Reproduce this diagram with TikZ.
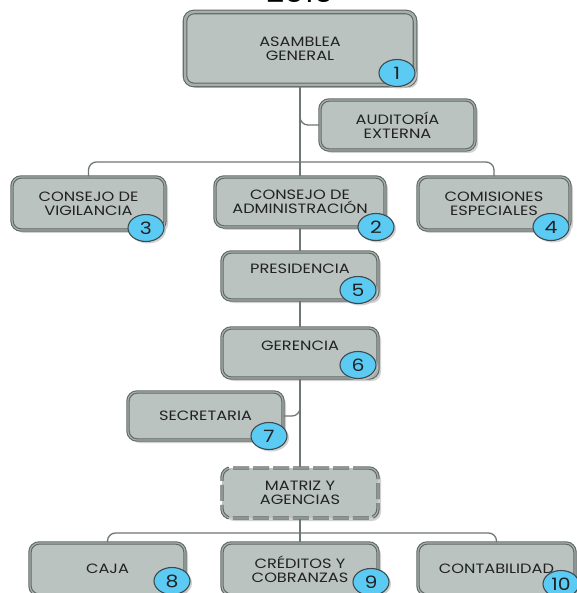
\documentclass[tikz,border=0pt]{standalone}
\usepackage{fontspec}
\setmainfont{Poppins}
\newfontfamily\boxfont[FakeStretch=1.2]{Poppins}
\usetikzlibrary{shapes.geometric,shadows}
\definecolor{boxfill}{HTML}{BAC3BF}
\definecolor{boxline}{HTML}{5F6864}
\definecolor{boxrim}{HTML}{A7AFAB}
\definecolor{badge}{HTML}{5CCBF4}
\definecolor{badgeline}{HTML}{3C4A50}
\definecolor{connc}{HTML}{6F7773}
\definecolor{txt}{HTML}{222222}
\tikzset{
  orgbox/.style={rectangle, rounded corners=9pt, fill=boxfill, draw=boxline,
    line width=1.1pt, double=boxrim, double distance=1.2pt,
    minimum width=#1, minimum height=50pt, align=center, inner sep=2pt,
    text=txt, font=\boxfont\fontsize{13.5}{14}\selectfont,
    drop shadow={shadow xshift=3pt, shadow yshift=-3pt, fill=gray!45, opacity=0.8}},
  orgbox/.default=156pt,
  badgenode/.style={ellipse, fill=badge, draw=badgeline, line width=1.1pt,
    minimum width=36pt, minimum height=27pt, inner sep=0pt,
    text=txt, font=\boxfont\fontsize{17}{17}\selectfont,
    drop shadow={shadow xshift=2pt, shadow yshift=-2pt, fill=gray!45, opacity=0.8}},
  conn/.style={draw=connc, line width=1.3pt, rounded corners=8pt}
}
\begin{document}
\begin{tikzpicture}[x=1pt,y=-1pt]
\useasboundingbox[fill=white] (0,0) rectangle (576,593);
\node[anchor=base, font=\boxfont\fontsize{26}{26}\selectfont, text=black] (year) at (300,3) {2010};

\node[orgbox=230pt, minimum height=73pt, double distance=2.5pt] (asm) at (300,48.5) {ASAMBLEA\\GENERAL};
\node[orgbox=155pt] (aud) at (397.5,125) {AUDITORÍA\\EXTERNA};
\node[orgbox=153pt, minimum height=53pt] (vig) at (88.5,203.5) {CONSEJO DE\\VIGILANCIA};
\node[orgbox=170pt] (adm) at (300,202) {CONSEJO DE\\ADMINISTRACIÓN};
\node[orgbox=152pt, minimum height=53pt] (com) at (494,203.5) {COMISIONES\\ESPECIALES};
\node[orgbox, minimum height=48pt] (pre) at (300,276) {\raisebox{15pt}{PRESIDENCIA}};
\node[orgbox] (ger) at (300,353) {\raisebox{15pt}{GERENCIA}};
\node[orgbox=155pt, minimum height=48pt] (sec) at (205.5,416) {SECRETARIA};
\node[orgbox, dash pattern=on 16pt off 4pt] (mat) at (300,493) {MATRIZ Y\\AGENCIAS};
\node[orgbox=155pt, minimum height=52pt] (caja) at (107.5,569) {CAJA};
\node[orgbox, minimum height=52pt] (cred) at (300,569) {CRÉDITOS Y\\COBRANZAS};
\node[orgbox=157pt, minimum height=52pt] (cont) at (496.5,569) {CONTABILIDAD};

\coordinate (topbar) at (300,162);
\coordinate (botbar) at (300,533);
\draw[conn] (asm.south) -- (adm.north);
\draw[conn] (asm.south) ++(0,20) |- (aud.west);
\draw[conn] (vig.north) |- (topbar) -| (com.north);
\draw[conn] (adm.south) -- (pre.north);
\draw[conn] (pre.south) -- (ger.north);
\draw[conn] (ger.south) -- (mat.north);
\draw[conn] (ger.south) ++(0,15) |- (sec.east);
\draw[conn] (mat.south) -- (cred.north);
\draw[conn] (caja.north) |- (botbar) -| (cont.north);

\node[badgenode] (b1) at (397,73) {1};
\node[badgenode] (b2) at (376,227) {2};
\node[badgenode] (b3) at (146,228) {3};
\node[badgenode] (b4) at (551,227) {4};
\node[badgenode] (b5) at (358,290) {5};
\node[badgenode] (b6) at (358,365) {6};
\node[badgenode] (b7) at (269,436) {7};
\node[badgenode] (b8) at (172,581) {8};
\node[badgenode] (b9) at (371,582) {9};
\node[badgenode] (b10) at (561,584) {10};
\end{tikzpicture}
\end{document}
